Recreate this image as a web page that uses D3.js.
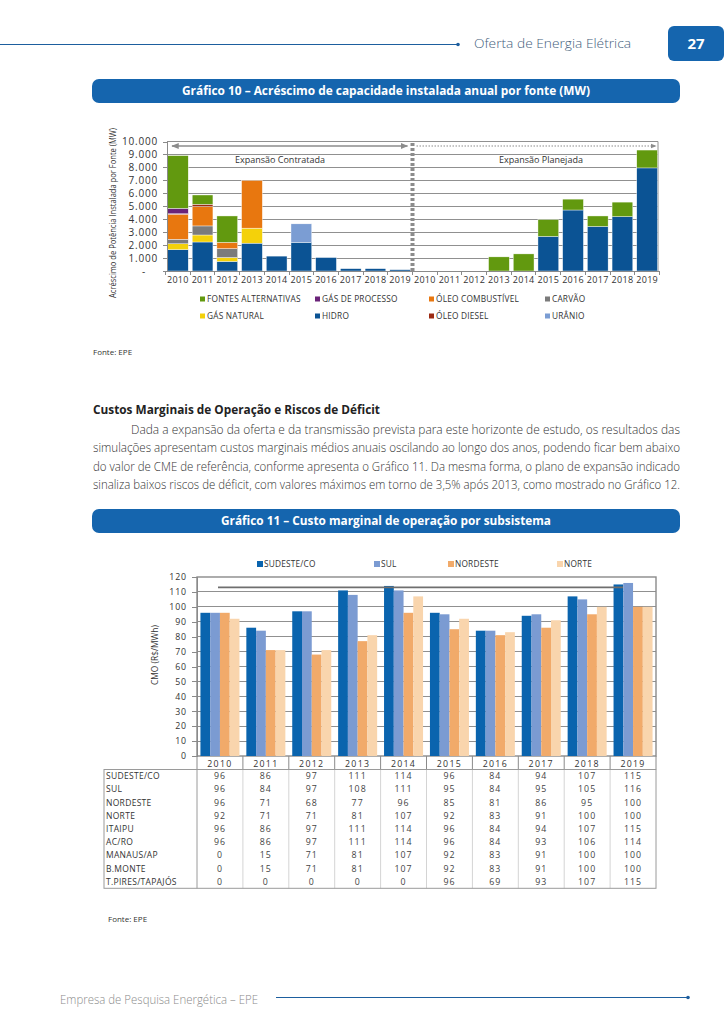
<!DOCTYPE html>
<meta charset="utf-8">
<style>
body { margin: 0; background: #fff; }
svg text { font-family: "Open Sans", "Noto Sans", sans-serif; }
.axis path, .axis line { fill: none; stroke: #8a8a8a; shape-rendering: crispEdges; }
.grid line { stroke: #909090; shape-rendering: crispEdges; }
</style>
<div id="page"></div>
<script src="https://cdn.jsdelivr.net/npm/d3@7"></script>
<script>

// ---- Gráfico 10: acréscimo de capacidade (MW), contratada 2010-2019 + planejada 2010-2019
var anos10 = ["2010","2011","2012","2013","2014","2015","2016","2017","2018","2019",
              "2010","2011","2012","2013","2014","2015","2016","2017","2018","2019"];
var hidro       = [1650, 2240, 740, 2150, 1150, 2210, 1040, 180, 180, 100, 0, 0, 0, 0, 0, 2670, 4710, 3440, 4200, 7960];
var gasNatural  = [450, 540, 300, 1160, 0, 0, 0, 0, 0, 0, 0, 0, 0, 0, 0, 0, 0, 0, 0, 0];
var carvao      = [350, 700, 690, 0, 0, 0, 0, 0, 0, 0, 0, 0, 0, 0, 0, 0, 0, 0, 0, 0];
var oleoComb    = [1930, 1490, 480, 3680, 0, 0, 0, 0, 0, 0, 0, 0, 0, 0, 0, 0, 0, 0, 0, 0];
var oleoDiesel  = [40, 180, 0, 0, 0, 0, 0, 0, 0, 0, 0, 0, 0, 0, 0, 0, 0, 0, 0, 0];
var gasProcesso = [420, 0, 0, 0, 0, 0, 0, 0, 0, 0, 0, 0, 0, 0, 0, 0, 0, 0, 0, 0];
var uranio      = [0, 0, 0, 0, 0, 1430, 0, 0, 0, 0, 0, 0, 0, 0, 0, 0, 0, 0, 0, 0];
var fontesAlt   = [4070, 720, 2040, 0, 0, 0, 0, 0, 0, 0, 0, 0, 0, 1090, 1320, 1300, 840, 810, 1120, 1380];
var ticks10 = [0, 1000, 2000, 3000, 4000, 5000, 6000, 7000, 8000, 9000, 10000];

// ordem de empilhamento (de baixo para cima)
var fontes = ["HIDRO", "GÁS NATURAL", "CARVÃO", "ÓLEO COMBUSTÍVEL", "ÓLEO DIESEL", "GÁS DE PROCESSO", "URÂNIO", "FONTES ALTERNATIVAS"];
var valoresFonte = [hidro, gasNatural, carvao, oleoComb, oleoDiesel, gasProcesso, uranio, fontesAlt];
var legenda10 = ["FONTES ALTERNATIVAS", "GÁS DE PROCESSO", "ÓLEO COMBUSTÍVEL", "CARVÃO",
                 "GÁS NATURAL", "HIDRO", "ÓLEO DIESEL", "URÂNIO"];

// ---- Gráfico 11: CMO por subsistema (R$/MWh)
var anos11 = ["2010","2011","2012","2013","2014","2015","2016","2017","2018","2019"];
var subsistemas = ["SUDESTE/CO", "SUL", "NORDESTE", "NORTE", "ITAIPU", "AC/RO", "MANAUS/AP", "B.MONTE", "T.PIRES/TAPAJÓS"];
var sudesteCO = [96, 86, 97, 111, 114, 96, 84, 94, 107, 115];
var sul       = [96, 84, 97, 108, 111, 95, 84, 95, 105, 116];
var nordeste  = [96, 71, 68, 77, 96, 85, 81, 86, 95, 100];
var norte     = [92, 71, 71, 81, 107, 92, 83, 91, 100, 100];
var itaipu    = [96, 86, 97, 111, 114, 96, 84, 94, 107, 115];
var acro      = [96, 86, 97, 111, 114, 96, 84, 93, 106, 114];
var manausAP  = [0, 15, 71, 81, 107, 92, 83, 91, 100, 100];
var bMonte    = [0, 15, 71, 81, 107, 92, 83, 91, 100, 100];
var tPires    = [0, 0, 0, 0, 0, 96, 69, 93, 107, 115];
var cmeReferencia = 113;
var ticks11 = [0, 10, 20, 30, 40, 50, 60, 70, 80, 90, 100, 110, 120];

var cores10 = {
  "HIDRO": "#0b5394", "GÁS NATURAL": "#f4d10a", "CARVÃO": "#7b7b7b", "ÓLEO COMBUSTÍVEL": "#e8770f",
  "ÓLEO DIESEL": "#9c2a12", "GÁS DE PROCESSO": "#6a2379", "URÂNIO": "#7b9dd3", "FONTES ALTERNATIVAS": "#62990f"
};
var cores11 = ["#0a64ae", "#7b9bd2", "#f1aa6a", "#f9d5ad"];

var svg = d3.select("#page").append("svg")
    .attr("width", 728)
    .attr("height", 1030);

// texto comprimido para caber numa largura
function fit(t, len) {
  return t.attr("textLength", len).attr("lengthAdjust", "spacingAndGlyphs");
}

// ---------- cabeçalho da página
svg.append("line").attr("x1", 0).attr("x2", 458).attr("y1", 44.5).attr("y2", 44.5)
  .attr("stroke", "#1d5e9e").attr("stroke-width", 1);
svg.append("circle").attr("cx", 458).attr("cy", 44.5).attr("r", 1.8).attr("fill", "#1d5e9e");
fit(svg.append("text").attr("x", 474).attr("y", 48).text("Oferta de Energia Elétrica")
  .style("font-size", "13px").style("font-weight", 300).attr("fill", "#44607c"), 157);
svg.append("rect").attr("x", 668).attr("y", 26).attr("width", 56).attr("height", 35).attr("rx", 6)
  .attr("fill", "#1565ae");
svg.append("text").attr("x", 696).attr("y", 49).attr("text-anchor", "middle").text("27")
  .style("font-size", "15px").style("font-weight", 700).attr("fill", "#fff");

// faixa de título
function tituloBarra(y, texto, len) {
  svg.append("rect").attr("x", 92).attr("y", y).attr("width", 588).attr("height", 24).attr("rx", 7)
    .attr("fill", "#1565ae");
  fit(svg.append("text").attr("x", 386).attr("y", y + 16).attr("text-anchor", "middle").text(texto)
    .style("font-size", "11.5px").style("font-weight", 700).attr("fill", "#fff"), len);
}
tituloBarra(79, "Gráfico 10 – Acréscimo de capacidade instalada anual por fonte (MW)", 408);
tituloBarra(509, "Gráfico 11 – Custo marginal de operação por subsistema", 330);

// ---------- Gráfico 10
var x10 = d3.scaleBand().domain(d3.range(20)).range([167, 658]).paddingInner(0.16).paddingOuter(0.02);
var y10 = d3.scaleLinear().domain([0, 10000]).range([271, 141.5]);
var step10 = x10.step();

var g10 = svg.append("g");

g10.append("g").attr("class", "grid").selectAll("line")
  .data(ticks10.slice(1))
  .enter().append("line")
    .attr("x1", 167).attr("x2", 658)
    .attr("y1", function(d) { return y10(d); })
    .attr("y2", function(d) { return y10(d); });
g10.append("line").attr("x1", 658).attr("x2", 658).attr("y1", y10(10000)).attr("y2", y10(0))
  .attr("stroke", "#909090");

var tabela10 = d3.range(20).map(function(i) {
  var row = {i: i};
  fontes.forEach(function(f, k) { row[f] = valoresFonte[k][i]; });
  return row;
});
var series10 = d3.stack().keys(fontes)(tabela10);

g10.append("g").selectAll("g")
  .data(series10)
  .enter().append("g")
    .attr("fill", function(d) { return cores10[d.key]; })
  .selectAll("rect")
  .data(function(d) { return d.filter(function(p) { return p[1] > p[0]; }); })
  .enter().append("rect")
    .attr("x", function(d) { return x10(d.data.i); })
    .attr("width", x10.bandwidth())
    .attr("y", function(d) { return y10(d[1]); })
    .attr("height", function(d) { return y10(d[0]) - y10(d[1]); })
    .attr("stroke", "#fff").attr("stroke-width", 0.4);

var eixoY10 = g10.append("g").attr("class", "axis")
  .attr("transform", "translate(167,0)")
  .call(d3.axisLeft(y10).tickValues(ticks10).tickSize(4).tickPadding(5)
    .tickFormat(function(d) { return d === 0 ? "-" : d3.format(",")(d).replace(/,/g, "."); }));
eixoY10.selectAll("text").style("font-size", "10px").style("letter-spacing", "0.8px").attr("fill", "#333");
eixoY10.selectAll("text").filter(function(d) { return d === 0; }).attr("dx", -12);

var eixoX10 = g10.append("g").attr("class", "axis")
  .attr("transform", "translate(0,271)")
  .call(d3.axisBottom(x10).tickSize(0).tickPadding(6).tickFormat(function(i) { return anos10[i]; }));
eixoX10.selectAll("text").style("font-size", "9px").style("letter-spacing", "0.3px").attr("fill", "#333");
eixoX10.append("g").selectAll("line")
  .data(d3.range(21))
  .enter().append("line")
    .attr("x1", function(i) { return 167 + step10 * 0.02 + i * step10 - step10 * 0.08; })
    .attr("x2", function(i) { return 167 + step10 * 0.02 + i * step10 - step10 * 0.08; })
    .attr("y1", 0).attr("y2", 4);

// separador contratada / planejada
var xSep = x10(10) - step10 * 0.08;
g10.append("line").attr("x1", xSep).attr("x2", xSep).attr("y1", 143).attr("y2", 271)
  .attr("stroke", "#8c8c8c").attr("stroke-width", 4).attr("stroke-dasharray", "3,2");

var defs = svg.append("defs");
defs.append("marker").attr("id", "seta").attr("viewBox", "0 0 10 10").attr("refX", 9).attr("refY", 5)
  .attr("markerWidth", 5).attr("markerHeight", 5).attr("orient", "auto-start-reverse")
  .append("path").attr("d", "M0,1L10,5L0,9Z").attr("fill", "#8c8c8c");

g10.append("line").attr("x1", 172).attr("x2", xSep - 5).attr("y1", 146).attr("y2", 146)
  .attr("stroke", "#8c8c8c").attr("stroke-width", 1.5)
  .attr("marker-start", "url(#seta)").attr("marker-end", "url(#seta)");
g10.append("line").attr("x1", xSep + 4).attr("x2", 656).attr("y1", 146).attr("y2", 146)
  .attr("stroke", "#8c8c8c").attr("stroke-width", 1.2).attr("stroke-dasharray", "1.5,1.5")
  .attr("marker-end", "url(#seta)");

g10.append("text").attr("x", 280).attr("y", 163).attr("text-anchor", "middle").text("Expansão Contratada")
  .style("font-size", "9px").attr("fill", "#333");
g10.append("text").attr("x", 541).attr("y", 163).attr("text-anchor", "middle").text("Expansão Planejada")
  .style("font-size", "9px").attr("fill", "#333");

fit(g10.append("text").attr("transform", "translate(116,213) rotate(-90)").attr("text-anchor", "middle")
  .text("Acréscimo de Potência Instalada  por Fonte  (MW)").style("font-size", "8.5px").attr("fill", "#333"), 170);

var colLeg10 = [200, 315, 429, 545];
var leg10 = g10.append("g").selectAll("g")
  .data(legenda10)
  .enter().append("g")
    .attr("transform", function(d, i) { return "translate(" + colLeg10[i % 4] + "," + (i < 4 ? 299 : 316) + ")"; });
leg10.append("rect").attr("x", 0).attr("y", -2.5).attr("width", 5).attr("height", 5)
  .attr("fill", function(d) { return cores10[d]; });
leg10.append("text").attr("x", 7).attr("y", 3).text(function(d) { return d; })
  .style("font-size", "8.3px").style("letter-spacing", "0.2px").attr("fill", "#333");

svg.append("text").attr("x", 93).attr("y", 355).text("Fonte: EPE").style("font-size", "8px").attr("fill", "#333");

// ---------- texto
fit(svg.append("text").attr("x", 93).attr("y", 414).text("Custos Marginais de Operação e Riscos de Déficit")
  .style("font-size", "13px").style("font-weight", 700).attr("fill", "#222"), 287);

var linhas = [
  "Dada a expansão da oferta e da transmissão prevista para este horizonte de estudo, os resultados das",
  "simulações apresentam custos marginais médios anuais oscilando ao longo dos anos, podendo ficar bem abaixo",
  "do valor de CME de referência, conforme apresenta o Gráfico 11. Da mesma forma, o plano de expansão indicado",
  "sinaliza baixos riscos de déficit, com valores máximos em torno de 3,5% após 2013, como mostrado no Gráfico 12."
];
svg.append("g").selectAll("text")
  .data(linhas)
  .enter().append("text")
    .attr("x", function(d, i) { return i === 0 ? 131 : 93; })
    .attr("y", function(d, i) { return 434 + i * 18.4; })
    .text(function(d) { return d; })
    .attr("textLength", function(d, i) { return i === 0 ? 549 : 587; })
    .attr("lengthAdjust", "spacingAndGlyphs")
    .style("font-size", "12.3px").style("font-weight", 300).attr("fill", "#333");

// ---------- Gráfico 11
var x11 = d3.scaleBand().domain(anos11).range([197, 656]).paddingInner(0.15).paddingOuter(0.075);
var step11 = x11.step();
var seriesCMO = ["SUDESTE/CO", "SUL", "NORDESTE", "NORTE"];
var valoresCMO = [sudesteCO, sul, nordeste, norte];
var xs11 = d3.scaleBand().domain(seriesCMO).range([0, x11.bandwidth()]);
var y11 = d3.scaleLinear().domain([0, 120]).range([756, 577]);

var g11 = svg.append("g");

g11.append("g").attr("class", "grid").selectAll("line")
  .data(ticks11.slice(1, -1))
  .enter().append("line")
    .attr("x1", 197).attr("x2", 656)
    .attr("y1", function(d) { return y11(d); })
    .attr("y2", function(d) { return y11(d); });
g11.append("rect").attr("x", 197).attr("y", y11(120)).attr("width", 459).attr("height", y11(0) - y11(120))
  .attr("fill", "none").attr("stroke", "#8a8a8a").attr("stroke-width", 1.4);

var tabela11 = anos11.map(function(a, i) {
  return seriesCMO.map(function(s, k) { return {ano: a, serie: s, k: k, v: valoresCMO[k][i]}; });
});
g11.append("g").selectAll("g")
  .data(tabela11)
  .enter().append("g")
    .attr("transform", function(d) { return "translate(" + x11(d[0].ano) + ",0)"; })
  .selectAll("rect")
  .data(function(d) { return d; })
  .enter().append("rect")
    .attr("x", function(d) { return xs11(d.serie); })
    .attr("width", xs11.bandwidth())
    .attr("y", function(d) { return y11(d.v); })
    .attr("height", function(d) { return y11(0) - y11(d.v); })
    .attr("fill", function(d) { return cores11[d.k]; });

g11.append("line").attr("x1", 218).attr("x2", 623).attr("y1", y11(cmeReferencia)).attr("y2", y11(cmeReferencia))
  .attr("stroke", "#6f6f6f").attr("stroke-width", 1.8);

var eixoY11 = g11.append("g").attr("class", "axis")
  .attr("transform", "translate(197,0)")
  .call(d3.axisLeft(y11).tickValues(ticks11).tickSize(5).tickPadding(5));
eixoY11.selectAll("text").style("font-size", "8.8px").style("letter-spacing", "0.9px").attr("fill", "#333");

fit(g11.append("text").attr("transform", "translate(158,655) rotate(-90)").attr("text-anchor", "middle")
  .text("CMO (R$/MWh)").style("font-size", "8.5px").attr("fill", "#333"), 60);

var leg11x = [257, 374, 448, 557];
var leg11 = g11.append("g").selectAll("g")
  .data(seriesCMO)
  .enter().append("g")
    .attr("transform", function(d, i) { return "translate(" + leg11x[i] + ",564)"; });
leg11.append("rect").attr("x", 0).attr("y", -3).attr("width", 6).attr("height", 6)
  .attr("fill", function(d, i) { return cores11[i]; });
leg11.append("text").attr("x", 7).attr("y", 3).text(function(d) { return d; })
  .style("font-size", "8.3px").style("letter-spacing", "0.2px").attr("fill", "#333");

// eixo de categorias + tabela de dados
var topoTab = 769.5, altLinha = 13.2;
var bordas = d3.range(11).map(function(i) { return 197 + i * step11; });
g11.append("g").selectAll("line")
  .data(bordas)
  .enter().append("line")
    .attr("x1", function(d) { return d; }).attr("x2", function(d) { return d; })
    .attr("y1", 756).attr("y2", topoTab)
    .attr("stroke", "#8a8a8a");
g11.append("g").selectAll("line")
  .data(bordas.slice(1, -1))
  .enter().append("line")
    .attr("x1", function(d) { return d; }).attr("x2", function(d) { return d; })
    .attr("y1", topoTab).attr("y2", topoTab + 9 * altLinha)
    .attr("stroke", "#d4d4d4");
g11.append("g").selectAll("text")
  .data(anos11)
  .enter().append("text")
    .attr("x", function(d) { return x11(d) + x11.bandwidth() / 2; })
    .attr("y", 766.5).attr("text-anchor", "middle")
    .text(function(d) { return d; })
    .style("font-size", "8.8px").style("letter-spacing", "1.3px").attr("fill", "#333");

g11.append("rect").attr("x", 104).attr("y", topoTab).attr("width", 552).attr("height", 9 * altLinha)
  .attr("fill", "none").attr("stroke", "#9a9a9a");
g11.append("line").attr("x1", 197).attr("x2", 197).attr("y1", topoTab).attr("y2", topoTab + 9 * altLinha)
  .attr("stroke", "#9a9a9a");

var valoresTab = [sudesteCO, sul, nordeste, norte, itaipu, acro, manausAP, bMonte, tPires];
var linhasTab = g11.append("g").selectAll("g")
  .data(subsistemas)
  .enter().append("g")
    .attr("transform", function(d, i) { return "translate(0," + (topoTab + i * altLinha) + ")"; });
linhasTab.append("text").attr("x", 106).attr("y", 9.8).text(function(d) { return d; })
  .style("font-size", "8.5px").style("letter-spacing", "0.3px").attr("fill", "#333");
linhasTab.selectAll("text.v")
  .data(function(d, i) { return valoresTab[i]; })
  .enter().append("text").attr("class", "v")
    .attr("x", function(d, j) { return x11(anos11[j]) + x11.bandwidth() / 2; })
    .attr("y", 9.8).attr("text-anchor", "middle")
    .text(function(d) { return d; })
    .style("font-size", "8.8px").style("letter-spacing", "1px").attr("fill", "#444");

svg.append("text").attr("x", 108).attr("y", 922).text("Fonte: EPE").style("font-size", "8px").attr("fill", "#333");

// ---------- rodapé
fit(svg.append("text").attr("x", 60).attr("y", 1004).text("Empresa de Pesquisa Energética – EPE")
  .style("font-size", "13px").style("font-weight", 300).attr("fill", "#8a8a8a"), 198);
svg.append("line").attr("x1", 276).attr("x2", 688).attr("y1", 997.5).attr("y2", 997.5)
  .attr("stroke", "#1d5e9e");
svg.append("circle").attr("cx", 688).attr("cy", 997.5).attr("r", 1.8).attr("fill", "#1d5e9e");

</script>
